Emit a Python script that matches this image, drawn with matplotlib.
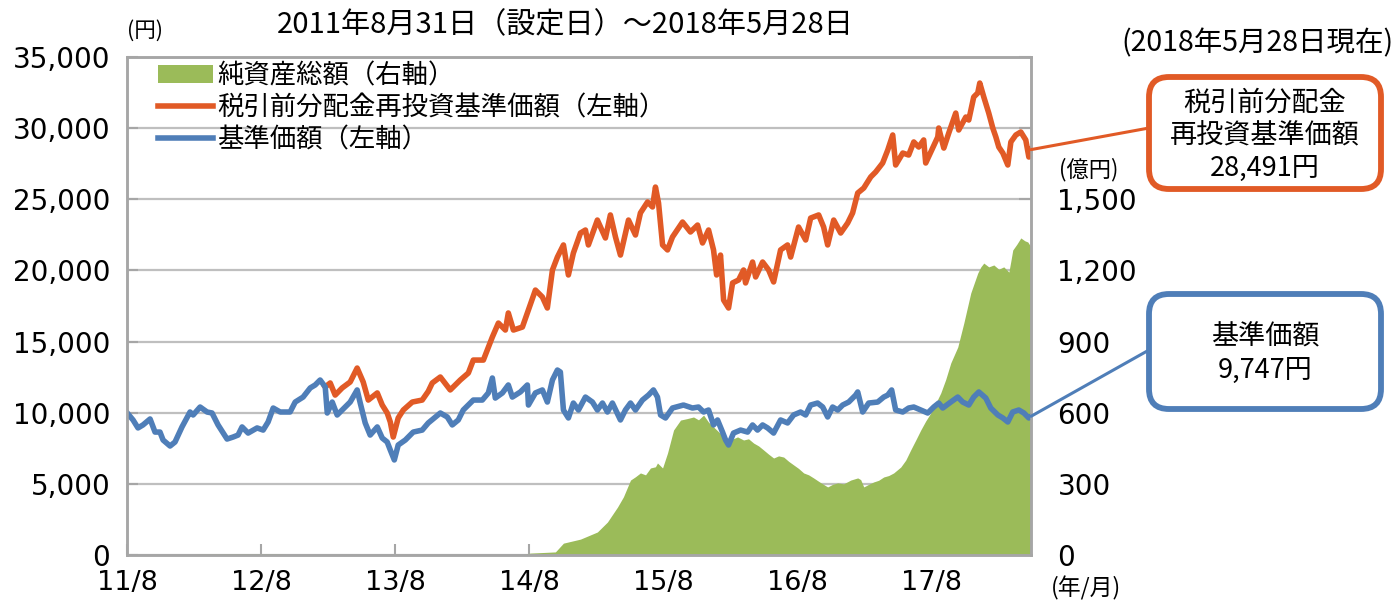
import numpy as np
import matplotlib
matplotlib.use('Agg')
import matplotlib.pyplot as plt
from matplotlib.patches import FancyBboxPatch
from matplotlib.transforms import IdentityTransform
from matplotlib.ticker import FuncFormatter

plt.rcParams['font.family'] = ['DejaVu Sans', 'Noto Sans CJK JP']

# ---------------- data (time in years since 2011-08-31 inception) ----------------
END_T = 6.74  # 2018-05-28
x_tick_t = [0, 1, 2, 3, 4, 5, 6]
x_tick_labels = ['11/8', '12/8', '13/8', '14/8', '15/8', '16/8', '17/8']
left_ticks = [0, 5000, 10000, 15000, 20000, 25000, 30000, 35000]
right_ticks = [0, 300, 600, 900, 1200, 1500, 1800, 2100]

# 基準価額 (yen)
blue_t = [0.000, 0.045, 0.082, 0.119, 0.172, 0.209, 0.246, 0.269, 0.321, 0.358,
          0.410, 0.470, 0.493, 0.545, 0.597, 0.634, 0.679, 0.746, 0.791, 0.828,
          0.858, 0.903, 0.970, 1.015, 1.052, 1.090, 1.142, 1.216, 1.254, 1.313,
          1.366, 1.403, 1.440, 1.478, 1.493, 1.530, 1.567, 1.604, 1.664, 1.716,
          1.739, 1.776, 1.813, 1.866, 1.903, 1.940, 1.963, 1.993, 2.022, 2.075,
          2.134, 2.201, 2.246, 2.336, 2.388, 2.425, 2.470, 2.507, 2.582, 2.649,
          2.694, 2.724, 2.746, 2.799, 2.843, 2.873, 2.933, 2.985, 2.993, 3.045,
          3.097, 3.134, 3.172, 3.209, 3.231, 3.254, 3.291, 3.328, 3.366, 3.418,
          3.470, 3.507, 3.545, 3.582, 3.619, 3.679, 3.716, 3.754, 3.791, 3.843,
          3.888, 3.925, 3.955, 3.978, 4.015, 4.067, 4.149, 4.216, 4.261, 4.299,
          4.336, 4.373, 4.403, 4.440, 4.463, 4.485, 4.522, 4.575, 4.627, 4.664,
          4.701, 4.739, 4.776, 4.821, 4.873, 4.925, 4.970, 5.022, 5.060, 5.097,
          5.149, 5.187, 5.224, 5.261, 5.299, 5.336, 5.381, 5.433, 5.448, 5.485,
          5.530, 5.597, 5.642, 5.672, 5.701, 5.731, 5.784, 5.828, 5.866, 5.918,
          5.970, 6.015, 6.052, 6.082, 6.142, 6.194, 6.231, 6.276, 6.313, 6.351,
          6.403, 6.440, 6.493, 6.530, 6.567, 6.604, 6.649, 6.687, 6.724, 6.740]
blue_v = [10000, 9490, 8930, 9140, 9560, 8640, 8640, 8080, 7660, 7940,
          9000, 10050, 9840, 10400, 10050, 9980, 9140, 8150, 8290, 8430,
          9000, 8570, 8930, 8780, 9350, 10330, 10050, 10050, 10750, 11100,
          11740, 11950, 12300, 11810, 9980, 10750, 9840, 10190, 10750, 11600,
          10680, 9280, 8430, 9000, 8220, 7940, 7380, 6680, 7730, 8080,
          8640, 8780, 9280, 9980, 9700, 9140, 9490, 10190, 10890, 10890,
          11390, 12440, 11030, 11390, 11950, 11100, 11460, 11950, 10540, 11390,
          11600, 10750, 12300, 13000, 12860, 10190, 9630, 10680, 10190, 11100,
          10750, 10190, 10680, 10050, 10680, 9490, 10190, 10680, 10190, 10890,
          11240, 11600, 11100, 9840, 9630, 10330, 10540, 10330, 10400, 10050,
          10190, 9140, 9490, 8640, 8080, 7730, 8570, 8780, 8640, 9140,
          8780, 9140, 8930, 8570, 9490, 9280, 9840, 10050, 9840, 10540,
          10680, 10400, 9700, 10400, 10190, 10540, 10750, 11240, 11460, 10050,
          10680, 10750, 11100, 11240, 11600, 10190, 10050, 10330, 10400, 10190,
          9980, 10400, 10680, 10330, 10750, 11100, 10750, 10540, 11100, 11460,
          11030, 10330, 9840, 9630, 9350, 10050, 10190, 9980, 9630, 9747]

# 税引前分配金再投資基準価額 (yen) — identical to 基準価額 before the first distribution
red_t = [1.478, 1.515, 1.552, 1.604, 1.664, 1.716, 1.761, 1.799, 1.866, 1.903,
         1.940, 1.963, 1.985, 2.022, 2.060, 2.127, 2.201, 2.246, 2.276, 2.336,
         2.410, 2.485, 2.545, 2.582, 2.657, 2.724, 2.769, 2.821, 2.843, 2.881,
         2.948, 2.985, 3.045, 3.097, 3.134, 3.172, 3.209, 3.254, 3.291, 3.328,
         3.381, 3.418, 3.440, 3.507, 3.567, 3.604, 3.642, 3.679, 3.739, 3.791,
         3.828, 3.881, 3.918, 3.940, 3.963, 3.993, 4.030, 4.067, 4.142, 4.201,
         4.254, 4.291, 4.336, 4.373, 4.396, 4.425, 4.448, 4.485, 4.515, 4.560,
         4.597, 4.612, 4.664, 4.687, 4.739, 4.784, 4.821, 4.873, 4.925, 4.948,
         5.007, 5.060, 5.097, 5.157, 5.194, 5.224, 5.269, 5.321, 5.373, 5.410,
         5.448, 5.493, 5.545, 5.582, 5.634, 5.672, 5.709, 5.731, 5.784, 5.828,
         5.866, 5.903, 5.940, 5.955, 5.993, 6.045, 6.052, 6.090, 6.127, 6.179,
         6.201, 6.254, 6.276, 6.313, 6.343, 6.358, 6.388, 6.425, 6.455, 6.478,
         6.500, 6.530, 6.567, 6.590, 6.627, 6.664, 6.701, 6.724, 6.740]
red_v = [11810, 12090, 11240, 11740, 12160, 13140, 12160, 10890, 11390, 10540,
         9980, 9350, 8290, 9630, 10190, 10750, 10890, 11500, 12090, 12510,
         11600, 12300, 12790, 13700, 13700, 15320, 16300, 15810, 17010, 15810,
         16020, 17010, 18620, 18130, 17360, 20030, 20940, 21790, 19680, 21220,
         22630, 22840, 21790, 23540, 22280, 23900, 22350, 21080, 23540, 22490,
         24040, 24810, 24460, 25860, 24740, 21790, 21440, 22350, 23400, 22700,
         23190, 21930, 22840, 21440, 19680, 21080, 17920, 17360, 19120, 19330,
         20030, 19120, 20590, 19540, 20590, 20030, 19190, 21440, 21790, 20940,
         23050, 22140, 23680, 23900, 23050, 21790, 23540, 22630, 23330, 24040,
         25440, 25790, 26570, 26920, 27550, 28460, 29520, 27410, 28250, 28110,
         29030, 28670, 29170, 27550, 28320, 29380, 30010, 28600, 29660, 31060,
         29870, 30780, 30570, 32190, 32470, 33170, 32190, 31060, 30010, 29380,
         28670, 28250, 27410, 29030, 29520, 29730, 29170, 27970, 28491]

# 純資産総額 (億円)
nav_t = [0.000, 0.470, 0.545, 0.843, 1.142, 1.216, 2.933, 3.007, 3.194, 3.254,
         3.381, 3.507, 3.582, 3.657, 3.701, 3.754, 3.791, 3.828, 3.866, 3.903,
         3.940, 3.955, 3.993, 4.030, 4.075, 4.127, 4.175, 4.224, 4.261, 4.299,
         4.336, 4.373, 4.410, 4.448, 4.500, 4.552, 4.597, 4.634, 4.672, 4.709,
         4.746, 4.784, 4.821, 4.858, 4.896, 4.933, 4.970, 5.007, 5.045, 5.082,
         5.119, 5.172, 5.224, 5.261, 5.299, 5.343, 5.396, 5.448, 5.470, 5.493,
         5.530, 5.567, 5.604, 5.642, 5.679, 5.716, 5.769, 5.806, 5.843, 5.881,
         5.918, 5.955, 5.993, 6.030, 6.067, 6.104, 6.142, 6.194, 6.239, 6.291,
         6.343, 6.366, 6.388, 6.425, 6.463, 6.500, 6.537, 6.575, 6.590, 6.604,
         6.634, 6.664, 6.694, 6.716, 6.740]
nav_v = [0, 0, 4, 6, 5, 0, 0, 8, 13, 50,
         67, 97, 139, 202, 245, 316, 330, 346, 338, 367,
         372, 388, 367, 430, 527, 569, 575, 582, 570, 590,
         560, 540, 520, 498, 485, 498, 485, 490, 472, 460,
         443, 425, 409, 418, 413, 395, 380, 365, 346, 338,
         325, 305, 287, 298, 304, 300, 316, 325, 318, 287,
         298, 308, 315, 329, 335, 346, 371, 400, 443, 485,
         527, 565, 599, 640, 683, 740, 810, 877, 978, 1105,
         1189, 1215, 1231, 1215, 1223, 1205, 1215, 1193, 1240, 1286,
         1310, 1337, 1325, 1320, 1299]

# ---------------- styles ----------------
GREEN = '#9BBB59'
ORANGE = '#E15A26'
BLUE = '#4F7EB8'
GRID = '#BFBFBF'
SPINE = '#A6A6A6'
CJK = ['Noto Sans CJK JP', 'DejaVu Sans']

W, H = 1396, 605
fig = plt.figure(figsize=(W / 100, H / 100), dpi=100)
L, R, B, T = 127, 1031, 555, 57
ax = fig.add_axes([L / W, (H - B) / H, (R - L) / W, (B - T) / H])

fill = ax.fill_between(nav_t, nav_v, 0, color=GREEN, lw=0, label='純資産総額（右軸）')
ax.set_xlim(0, END_T)
ax.set_ylim(0, 2100)
ax.set_yticks(right_ticks)
ax.yaxis.set_major_formatter(FuncFormatter(lambda v, p: f'{int(v):,}' if v <= 1500 else ''))
ax.grid(axis='y', color=GRID, lw=1.6)
ax.set_axisbelow(True)

axl = ax.twinx()
ax.yaxis.tick_right()
axl.yaxis.tick_left()
axl.set_ylim(0, 35000)
axl.set_yticks(left_ticks)
axl.yaxis.set_major_formatter(FuncFormatter(lambda v, p: f'{int(v):,}'))

lr, = axl.plot(red_t, red_v, color=ORANGE, lw=4.0, solid_joinstyle='round',
               label='税引前分配金再投資基準価額（左軸）')
lb, = axl.plot(blue_t, blue_v, color=BLUE, lw=4.0, solid_joinstyle='round',
               label='基準価額（左軸）')

ax.set_xticks(x_tick_t)
ax.set_xticklabels(x_tick_labels)
ax.tick_params(axis='x', direction='in', length=8, width=1.5, color=SPINE,
               labelsize=19.5, pad=11)
ax.tick_params(axis='y', direction='in', length=9, width=1.5, color=SPINE,
               labelsize=20, pad=19)
axl.tick_params(axis='y', direction='in', length=8, width=1.5, color=SPINE,
                labelsize=20, pad=12)
for a in (ax, axl):
    for s in a.spines.values():
        s.set_color(SPINE)
        s.set_linewidth(1.8)

leg = axl.legend(handles=[fill, lr, lb], loc='upper left',
                 bbox_to_anchor=((158 - L) / (R - L), (B - 62) / (B - T)),
                 frameon=False, borderpad=0, borderaxespad=0,
                 handlelength=2.1, handletextpad=0.15, labelspacing=0.2,
                 prop={'family': CJK, 'size': 19})

# ---------------- texts ----------------
def ftext(x, y, s, **kw):
    fig.text(x / W, 1 - y / H, s, ha='center', va='center', **kw)

ftext(565, 25, '2011年8月31日（設定日）～2018年5月28日', fontsize=21, family=CJK)
ftext(145, 31, '(円)', fontsize=15.5, family=CJK)
ftext(1089, 170, '(億円)', fontsize=16, family=CJK)
ftext(1086, 588, '(年/月)', fontsize=16.5, family=CJK)
ftext(1257, 43, '(2018年5月28日現在)', fontsize=20.5, family=CJK)

# ---------------- callout boxes ----------------
def box(x0, y0, x1, y1, color):
    p = FancyBboxPatch((x0, H - y1), x1 - x0, y1 - y0,
                       boxstyle='round,pad=0,rounding_size=20',
                       transform=IdentityTransform(), facecolor='white',
                       edgecolor=color, linewidth=4.2, zorder=5)
    fig.patches.append(p)

box(1149, 77, 1381, 189, ORANGE)
box(1149, 294, 1381, 409, BLUE)

ftext(1265, 103, '税引前分配金', fontsize=19.5, family=CJK, zorder=6)
ftext(1265, 136, '再投資基準価額', fontsize=19.5, family=CJK, zorder=6)
ftext(1265, 168, '28,491円', fontsize=19.5, family=CJK, zorder=6)
ftext(1265, 337, '基準価額', fontsize=19.5, family=CJK, zorder=6)
ftext(1265, 370, '9,747円', fontsize=19.5, family=CJK, zorder=6)

axl.annotate('', xy=(red_t[-1], red_v[-1]), xycoords='data',
             xytext=(1149 / W, 1 - 128 / H), textcoords='figure fraction',
             arrowprops=dict(arrowstyle='-', color=ORANGE, lw=2.2,
                             shrinkA=0, shrinkB=0), annotation_clip=False)
axl.annotate('', xy=(blue_t[-1], blue_v[-1]), xycoords='data',
             xytext=(1149 / W, 1 - 350 / H), textcoords='figure fraction',
             arrowprops=dict(arrowstyle='-', color=BLUE, lw=2.2,
                             shrinkA=0, shrinkB=0), annotation_clip=False)

fig.savefig('out.png', dpi=100)
